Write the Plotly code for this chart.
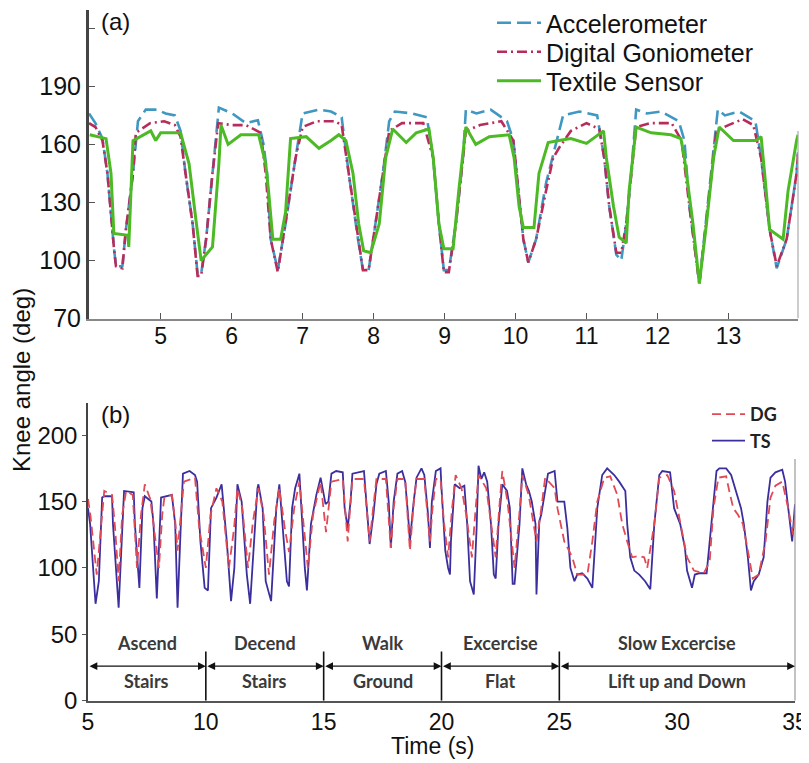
import plotly.graph_objects as go

# The page body adds an 8 px margin, so the figure is sized to the visible window
PAGE_W, PAGE_H = 809, 763
OFF = 8
W, H = PAGE_W - OFF, PAGE_H - OFF


def fx(px):
    return (px - OFF) / W


def fy(py):
    return 1 - (py - OFF) / H


# ---------------- Panel (a): knee angle, three sensors ----------------
acc_a_t = [3.99,4.08,4.18,4.25,4.34,4.37,4.46,4.51,4.61,4.68,
           4.79,4.95,5.07,5.20,5.28,5.35,5.45,5.52,5.57,5.64,
           5.73,5.82,6.01,6.20,6.37,6.45,6.50,6.55,6.65,6.76,
           6.90,7.00,7.23,7.40,7.55,7.65,7.78,7.85,7.93,8.03,
           8.13,8.22,8.30,8.55,8.75,8.84,8.92,8.99,9.06,9.16,
           9.26,9.30,9.45,9.65,9.88,9.97,10.04,10.11,10.18,10.29,
           10.43,10.55,10.67,10.90,11.15,11.25,11.32,11.42,11.49,11.56,
           11.63,11.70,11.85,12.05,12.30,12.38,12.45,12.59,12.73,12.85,
           12.95,13.15,13.38,13.46,13.58,13.68,13.82,13.96,13.98]
acc_a_deg = [176,171,163,145,107,97,97,116,145,172,
             178,178,176,175,167,145,119,93,93,111,
             145,179,176,171,172.5,160,145,111,95,119,
             153,176,178,177,174,145,111,95,95,119,
             145,172,177,176,174,153,119,95,95,119,
             153,178,176,178,172,162,136,111,99,111,
             140,157,175,177,175,153,128,103,100,119,
             145,178,176,177,172,162,128,88,136,178,
             175,177,172,153,116,96,111,145,156]

dg_a_t = [3.99,4.08,4.18,4.25,4.34,4.37,4.46,4.51,4.61,4.65,
          4.85,5.05,5.20,5.28,5.35,5.45,5.52,5.57,5.64,5.73,
          5.81,6.00,6.20,6.41,6.48,6.55,6.65,6.76,6.90,7.00,
          7.20,7.45,7.55,7.65,7.78,7.85,7.93,8.03,8.13,8.22,
          8.40,8.70,8.84,8.92,8.99,9.06,9.16,9.26,9.30,9.50,
          9.80,9.97,10.04,10.11,10.18,10.29,10.43,10.53,10.61,10.78,
          11.00,11.18,11.25,11.32,11.42,11.49,11.56,11.63,11.70,11.90,
          12.20,12.34,12.45,12.59,12.73,12.83,13.00,13.20,13.35,13.46,
          13.58,13.68,13.82,13.96,13.98]
dg_a_deg = [171,169,162,145,107,97,96,116,145,166,
            171,172,170,164,145,119,92,92,111,145,
            171,170,170,166,145,111,94,119,153,169,
            172,172,170,145,111,95,95,119,145,167,
            171,171,153,119,94,94,119,153,167,170,
            172,162,136,111,99,111,136,153,158,167,
            171,168,153,128,104,104,119,145,169,171,
            171,162,128,88,136,167,170,173,170,153,
            116,97,111,145,155]

tex_a_t = [4.00,4.23,4.30,4.34,4.54,4.55,4.61,4.86,4.93,5.00,
           5.28,5.40,5.50,5.57,5.73,5.82,5.85,5.95,6.13,6.38,
           6.48,6.52,6.58,6.69,6.76,6.83,7.05,7.23,7.40,7.51,
           7.61,7.71,7.79,7.86,7.96,8.08,8.17,8.27,8.46,8.60,
           8.78,8.84,8.92,8.99,9.12,9.20,9.30,9.44,9.63,9.91,
           9.98,10.05,10.11,10.26,10.33,10.46,10.61,10.78,11.00,11.16,
           11.24,11.28,11.38,11.46,11.56,11.60,11.70,11.91,12.19,12.33,
           12.38,12.50,12.59,12.69,12.79,12.87,13.07,13.39,13.46,13.51,
           13.58,13.77,13.84,13.96,13.98]
tex_a_deg = [165,163,145,114,113,107,162,167,162,166,
             166,150,120,100,107,150,170,160,165,165,
             150,136,111,111,125,163,164,158,162,165,
             162,145,119,105,104,119,153,168,161,166,
             168,153,119,106,106,136,169,160,164,165,
             153,128,117,117,145,161,162,163,160.5,165,
             167,153,128,112,109,136,169,166,165,163,
             153,119,88,119,153,169,162,162,164,145,
             116,111,136,162,165]

xticks_a = [5, 6, 7, 8, 9, 10, 11, 12, 13]
yticks_a = [70, 100, 130, 160, 190, 220]
yticklabels_a = ["70", "100", "130", "160", "190", ""]

# ---------------- Panel (b): DG vs TS over activities ----------------
ts_b = [(5.00,145),(5.09,133),(5.32,73),(5.46,90),(5.60,153),(5.69,154),(6.02,154),(6.06,133),(6.30,70),(6.48,145),
        (6.53,158),(6.94,157),(6.99,133),(7.18,85),(7.31,145),(7.41,154),(7.69,150),(7.78,133),(7.92,77),(8.10,153),
        (8.56,155),(8.70,133),(8.80,70),(8.94,133),(9.03,171),(9.31,173),(9.54,170),(9.63,165),(9.77,120),(9.95,85),
        (10.09,83),(10.22,145),(10.45,153),(10.67,163),(10.89,120),(11.07,75),(11.21,100),(11.34,163),(11.52,150),(11.74,95),
        (11.88,73),(12.19,160),(12.23,163),(12.41,145),(12.54,90),(12.77,75),(12.99,145),(13.12,163),(13.30,120),(13.44,90),
        (13.53,86),(13.66,145),(13.79,160),(13.97,171),(14.20,100),(14.29,83),(14.46,133),(14.69,155),(14.87,168),(15.08,148),
        (15.20,150),(15.33,171),(15.53,173),(15.81,172),(15.89,145),(16.02,130),(16.14,150),(16.22,171),(16.71,173),(16.83,145),
        (16.95,118),(17.11,140),(17.24,163),(17.36,171),(17.64,173),(17.76,150),(17.85,115),(17.97,150),(18.13,171),(18.33,173),
        (18.46,165),(18.58,140),(18.66,120),(18.82,150),(18.94,168),(19.15,175),(19.27,170),(19.43,140),(19.51,115),(19.59,150),
        (19.76,173),(19.96,175),(20.00,160),(20.16,113),(20.28,100),(20.36,95),(20.40,120),(20.56,163),(20.77,160),(20.97,162),
        (21.09,133),(21.21,90),(21.37,80),(21.49,130),(21.57,177),(21.69,167),(21.81,172),(21.94,165),(22.10,133),(22.22,95),
        (22.30,92),(22.42,133),(22.58,163),(22.78,158),(22.90,145),(23.02,88),(23.10,88),(23.31,133),(23.43,175),(23.59,163),
        (23.71,158),(23.83,150),(23.99,133),(24.03,80),(24.15,135),(24.23,140),(24.40,158),(24.52,171),(24.80,173),(24.92,150),
        (25.21,150),(25.34,130),(25.47,100),(25.64,90),(25.76,95),(25.97,96),(26.19,92),(26.40,85),(26.61,145),(26.82,170),
        (27.03,175),(27.33,170),(27.54,165),(27.80,158),(27.88,133),(28.01,108),(28.18,98),(28.39,95),(28.64,90),(28.86,84),
        (29.03,133),(29.24,170),(29.37,173),(29.70,172),(29.87,145),(30.13,133),(30.33,115),(30.42,98),(30.63,85),(30.75,95),
        (30.96,96),(31.25,96),(31.38,120),(31.54,150),(31.67,173),(31.79,175),(32.08,175),(32.29,170),(32.50,158),(32.71,145),
        (32.83,133),(33.00,108),(33.13,83),(33.25,90),(33.46,95),(33.67,108),(33.83,150),(33.96,168),(34.17,172),(34.46,174),
        (34.58,165),(34.71,145),(34.88,120),(35.00,148)]

dg_b = [(5.00,152),(5.10,140),(5.37,95),(5.50,120),(5.69,158),(6.02,155),(6.15,130),(6.30,90),(6.45,140),(6.62,158),
        (6.90,155),(7.08,100),(7.25,140),(7.41,163),(7.64,152),(7.80,130),(8.01,100),(8.15,140),(8.24,153),(8.56,155),
        (8.70,135),(8.80,113),(8.95,140),(9.07,165),(9.54,168),(9.72,130),(10.00,100),(10.20,140),(10.45,160),(10.70,150),
        (10.98,100),(11.20,130),(11.34,160),(11.55,145),(11.79,100),(12.00,135),(12.23,160),(12.45,140),(12.68,95),(12.90,135),
        (13.12,160),(13.35,130),(13.53,112),(13.75,145),(13.97,165),(14.15,130),(14.33,100),(14.55,140),(14.87,165),(15.10,127),
        (15.33,165),(15.81,167),(15.92,140),(16.02,120),(16.12,145),(16.22,167),(16.71,167),(16.83,140),(16.95,120),(17.10,145),
        (17.24,167),(17.64,167),(17.76,140),(17.85,115),(17.97,145),(18.13,167),(18.46,167),(18.56,140),(18.66,113),(18.80,145),
        (18.94,167),(19.27,167),(19.40,140),(19.51,120),(19.62,145),(19.76,167),(19.96,167),(20.10,135),(20.28,108),(20.45,145),
        (20.60,170),(20.85,160),(21.05,140),(21.29,108),(21.45,145),(21.57,170),(21.90,160),(22.10,135),(22.30,108),(22.45,145),
        (22.58,173),(22.80,150),(22.95,125),(23.10,100),(23.30,140),(23.43,170),(23.70,155),(23.90,135),(24.03,120),(24.20,140),
        (24.40,168),(24.80,160),(24.92,145),(25.21,120),(25.55,108),(25.76,95),(26.19,95),(26.40,120),(26.61,150),(26.91,168),
        (27.16,169),(27.46,155),(27.67,133),(27.88,120),(28.09,108),(28.39,109),(28.60,108),(28.73,100),(29.03,133),(29.24,168),
        (29.58,170),(29.87,158),(30.13,133),(30.42,108),(30.71,98),(31.13,96),(31.38,105),(31.54,145),(31.75,168),(32.08,169),
        (32.21,158),(32.38,145),(32.58,140),(32.79,133),(33.00,113),(33.21,92),(33.46,95),(33.75,120),(33.96,153),(34.17,162),
        (34.46,165),(34.71,145),(34.92,125),(35.00,140)]

xticks_b = [5, 10, 15, 20, 25, 30, 35]
yticks_b = [0, 50, 100, 150, 200]
segment_bounds = [5, 10, 15, 20, 25, 35]
activity_top = ["Ascend", "Decend", "Walk", "Excercise", "Slow Excercise"]
activity_bottom = ["Stairs", "Stairs", "Ground", "Flat", "Lift up and Down"]

FONT = "Arial, Liberation Sans, sans-serif"
ACT_FONT = "Lato, Open Sans, sans-serif"

fig = go.Figure()

# Panel (a) -- each entry gets its own single-item legend so the rows sit as in the reference
fig.add_trace(go.Scatter(x=acc_a_t, y=acc_a_deg, mode="lines", name="Accelerometer",
                         line=dict(color="#3f98c2", width=2.6, dash="14px,6px"),
                         xaxis="x", yaxis="y", legend="legend"))
fig.add_trace(go.Scatter(x=dg_a_t, y=dg_a_deg, mode="lines", name="Digital Goniometer",
                         line=dict(color="#b82c5c", width=2.6, dash="10px,4px,2px,4px"),
                         xaxis="x", yaxis="y", legend="legend3"))
fig.add_trace(go.Scatter(x=tex_a_t, y=tex_a_deg, mode="lines", name="Textile Sensor",
                         line=dict(color="#4cba25", width=3),
                         xaxis="x", yaxis="y", legend="legend4"))

# Panel (b)
tb, vb = zip(*ts_b)
td, vd = zip(*dg_b)
fig.add_trace(go.Scatter(x=tb, y=vb, mode="lines", name="TS", legendrank=2, legendgroup="ts",
                         line=dict(color="#3b2f9e", width=1.8),
                         xaxis="x2", yaxis="y2", legend="legend2"))
fig.add_trace(go.Scatter(x=td, y=vd, mode="lines", name="DG", legendrank=1, legendgroup="dg",
                         line=dict(color="#df4a55", width=1.8, dash="9px,5px"),
                         xaxis="x2", yaxis="y2", legend="legend2"))

shapes = []
# right frame lines
shapes.append(dict(type="line", xref="x domain", yref="y", x0=1, x1=1, y0=70, y1=167,
                   line=dict(color="#aaaaaa", width=1.2)))
shapes.append(dict(type="line", xref="x2 domain", yref="y2", x0=1, x1=1, y0=0, y1=182,
                   line=dict(color="#999999", width=1.2)))
# activity dividers
for b in segment_bounds[1:-1]:
    shapes.append(dict(type="line", xref="x2", yref="y2", x0=b, x1=b, y0=0, y1=37,
                       line=dict(color="#111111", width=1.6)))

annotations = []
for i in range(len(segment_bounds) - 1):
    a0, a1 = segment_bounds[i], segment_bounds[i + 1]
    annotations.append(dict(x=a1, y=26, ax=a0, ay=26, xref="x2", yref="y2", axref="x2", ayref="y2",
                            text="", showarrow=True, arrowhead=2, startarrowhead=2, arrowside="end+start",
                            arrowsize=1.3, startarrowsize=1.3, arrowwidth=1.2, arrowcolor="#111111",
                            standoff=0, startstandoff=0))
    mid = (a0 + a1) / 2
    annotations.append(dict(x=mid, y=43.5, xref="x2", yref="y2", text=activity_top[i], showarrow=False,
                            font=dict(family=ACT_FONT, size=18, color="#3a3a3a", weight="bold")))
    annotations.append(dict(x=mid, y=14.5, xref="x2", yref="y2", text=activity_bottom[i], showarrow=False,
                            font=dict(family=ACT_FONT, size=18, color="#3a3a3a", weight="bold")))

annotations += [
    dict(x=fx(99), y=fy(21), xref="paper", yref="paper", text="(a)", showarrow=False,
         xanchor="left", yanchor="middle", font=dict(family=FONT, size=24, color="#111")),
    dict(x=fx(99), y=fy(415), xref="paper", yref="paper", text="(b)", showarrow=False,
         xanchor="left", yanchor="middle", font=dict(family=FONT, size=24, color="#111")),
    dict(x=fx(22), y=fy(380), xref="paper", yref="paper", text="Knee angle (deg)", showarrow=False,
         textangle=-90, xanchor="center", yanchor="middle", font=dict(family=FONT, size=24, color="#111")),
    dict(x=fx(433), y=fy(746), xref="paper", yref="paper", text="Time (s)", showarrow=False,
         xanchor="center", yanchor="middle", font=dict(family=FONT, size=23, color="#111")),
]

LEG_A = dict(xanchor="left", yanchor="top", bgcolor="rgba(0,0,0,0)",
             font=dict(family=FONT, size=25, color="#111"), itemwidth=44)

fig.update_layout(
    template="none",
    width=W, height=H,
    margin=dict(l=0, r=0, t=0, b=0, autoexpand=False),
    paper_bgcolor="white", plot_bgcolor="white",
    font=dict(family=FONT, color="#111"),
    xaxis=dict(domain=[fx(89), fx(798)], range=[3.99, 13.98], anchor="y", automargin=False,
               tickmode="array", tickvals=xticks_a, ticks="inside", ticklen=6, tickcolor="#555",
               ticklabelstandoff=-4,
               showline=True, linecolor="#888888", linewidth=1.5, showgrid=False, zeroline=False,
               tickfont=dict(family=FONT, size=23, color="#111")),
    yaxis=dict(domain=[fy(318.5), fy(10)], range=[70, 229.5], anchor="x", automargin=False,
               tickmode="array", tickvals=yticks_a, ticktext=yticklabels_a,
               ticks="inside", ticklen=6, tickcolor="#555",
               showline=True, linecolor="#444444", linewidth=3, showgrid=False, zeroline=False,
               tickfont=dict(family=FONT, size=25, color="#111")),
    xaxis2=dict(domain=[fx(88), fx(795)], range=[5, 35], anchor="y2", automargin=False,
                tickmode="array", tickvals=xticks_b, ticks="", ticklabelstandoff=0,
                showline=True, linecolor="#555555", linewidth=1.5, showgrid=False, zeroline=False,
                tickfont=dict(family=FONT, size=23, color="#111")),
    yaxis2=dict(domain=[fy(700.7), fy(403.3)], range=[0, 224], anchor="x2", automargin=False,
                tickmode="array", tickvals=yticks_b, ticks="outside", ticklen=4, tickcolor="#555",
                showline=True, linecolor="#444444", linewidth=1.5, showgrid=False, zeroline=False,
                tickfont=dict(family=FONT, size=24, color="#111")),
    legend=dict(x=fx(492), y=fy(0), **LEG_A),
    legend3=dict(x=fx(492), y=fy(29), **LEG_A),
    legend4=dict(x=fx(492), y=fy(58), **LEG_A),
    legend2=dict(x=fx(707), y=fy(396), xanchor="left", yanchor="top", bgcolor="rgba(0,0,0,0)",
                 font=dict(family=ACT_FONT, size=18, color="#222", weight="bold"), traceorder="grouped",
                 tracegroupgap=0, itemwidth=33),
    shapes=shapes,
    annotations=annotations,
    showlegend=True,
)

fig.write_html("out.html")
